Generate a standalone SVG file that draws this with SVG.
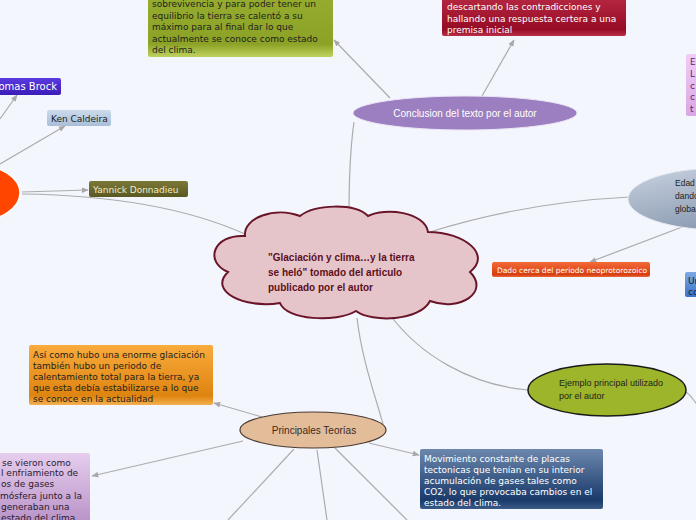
<svg xmlns="http://www.w3.org/2000/svg" width="696" height="520" viewBox="0 0 696 520">
<defs>
<linearGradient id="gGreen" x1="0" y1="0" x2="0" y2="1"><stop offset="0" stop-color="#97ad30"/><stop offset="0.8" stop-color="#8ba226"/><stop offset="1" stop-color="#bfd25e"/></linearGradient>
<linearGradient id="gRed" x1="0" y1="0" x2="0" y2="1"><stop offset="0" stop-color="#bb2c46"/><stop offset="0.85" stop-color="#960c24"/><stop offset="1" stop-color="#b83048"/></linearGradient>
<linearGradient id="gThomas" x1="0" y1="0" x2="0" y2="1"><stop offset="0" stop-color="#5a3be0"/><stop offset="1" stop-color="#3a1cb8"/></linearGradient>
<linearGradient id="gKen" x1="0" y1="0" x2="0" y2="1"><stop offset="0" stop-color="#ccdbeb"/><stop offset="1" stop-color="#a8bed8"/></linearGradient>
<linearGradient id="gYan" x1="0" y1="0" x2="0" y2="1"><stop offset="0" stop-color="#7c7838"/><stop offset="1" stop-color="#5a5822"/></linearGradient>
<linearGradient id="gDado" x1="0" y1="0" x2="0" y2="1"><stop offset="0" stop-color="#f26a38"/><stop offset="0.85" stop-color="#d83e0e"/><stop offset="1" stop-color="#e86a40"/></linearGradient>
<linearGradient id="gOrange" x1="0" y1="0" x2="0" y2="1"><stop offset="0" stop-color="#f9ab3c"/><stop offset="0.85" stop-color="#de8410"/><stop offset="1" stop-color="#f4b050"/></linearGradient>
<linearGradient id="gPurp" x1="0" y1="0" x2="0" y2="1"><stop offset="0" stop-color="#e6cdee"/><stop offset="1" stop-color="#b48ec4"/></linearGradient>
<linearGradient id="gNavy" x1="0" y1="0" x2="0" y2="1"><stop offset="0" stop-color="#6c88ad"/><stop offset="0.85" stop-color="#1a3a6a"/><stop offset="1" stop-color="#3a5a88"/></linearGradient>
<linearGradient id="gPink" x1="0" y1="0" x2="0" y2="1"><stop offset="0" stop-color="#f0ccf6"/><stop offset="1" stop-color="#d9a6e6"/></linearGradient>
<linearGradient id="gBlue" x1="0" y1="0" x2="0" y2="1"><stop offset="0" stop-color="#7eaae2"/><stop offset="1" stop-color="#3c72c2"/></linearGradient>
<linearGradient id="gEdad" x1="0" y1="0" x2="0.6" y2="1"><stop offset="0" stop-color="#c8d2e0"/><stop offset="1" stop-color="#8696ae"/></linearGradient>
<marker id="arr" viewBox="0 0 10 10" refX="9" refY="5" markerWidth="7" markerHeight="7" orient="auto" markerUnits="userSpaceOnUse"><path d="M0,1 L10,5 L0,9 Z" fill="#a8a8a8"/></marker>
</defs>
<style>
.c{fill:none;stroke:#acacac;stroke-width:1.2}
.a{marker-end:url(#arr)}
.t{font-family:"DejaVu Sans",Verdana,sans-serif;font-size:9px}
.h{font-family:"Liberation Sans",Arial,sans-serif;font-size:9px}
.dk{fill:#1e1e1e}
.wt{fill:#ffffff}
</style>
<rect width="696" height="520" fill="#f3f6fd"/>

<g id="connectors">
<path class="c" d="M349,214 C349,180 350,150 354,122"/>
<path class="c a" d="M390,98 L334,40"/>
<path class="c a" d="M482,96 L514,40"/>
<path class="c" d="M430,232 C500,210 570,200 630,197"/>
<path class="c a" d="M690,224 L590,262"/>
<path class="c a" d="M22,192 L88,190"/>
<path class="c" d="M22,194 C100,195 180,205 245,234"/>
<path class="c a" d="M0,164 L65,126"/>
<path class="c a" d="M0,119 L17,95"/>
<path class="c" d="M357,318 C362,360 375,395 383,424"/>
<path class="c" d="M390,315 C420,355 470,385 528,390"/>
<path class="c" d="M686,392 Q693,397 700,410"/>
<path class="c a" d="M262,417 L214,403"/>
<path class="c a" d="M243,441 L92,476"/>
<path class="c a" d="M369,443 L419,455"/>
<path class="c" d="M294,449 L228,520"/>
<path class="c" d="M317,450 L327,520"/>
<path class="c" d="M335,448 L407,520"/>
</g>

<g id="n-green">
<rect x="148" y="-8" width="185" height="65" rx="2" fill="url(#gGreen)"/>
<text class="t dk"><tspan x="152" y="7">sobrevivencia y para poder tener un</tspan><tspan x="152" y="18.5">equilibrio la tierra se calentó a su</tspan><tspan x="152" y="30">máximo para al final dar lo que</tspan><tspan x="152" y="41.5">actualmente se conoce como estado</tspan><tspan x="152" y="53">del clima.</tspan></text>
</g>

<g id="n-red">
<rect x="442" y="-8" width="184" height="44" rx="2" fill="url(#gRed)"/>
<text class="t wt"><tspan x="447" y="10">descartando las contradicciones y</tspan><tspan x="447" y="21.5">hallando una respuesta certera a una</tspan><tspan x="447" y="33">premisa inicial</tspan></text>
</g>

<g id="n-conclusion">
<ellipse cx="465" cy="113" rx="112" ry="17" fill="#9c7fc0" stroke="#ece4f4" stroke-width="1"/>
<text class="h wt" x="465" y="116.5" text-anchor="middle" style="font-size:10px">Conclusion del texto por el autor</text>
</g>

<g id="n-thomas">
<rect x="-20" y="78" width="81" height="17" rx="2" fill="url(#gThomas)"/>
<text class="t wt" x="57" y="90" text-anchor="end" style="font-size:10px">Thomas Brock</text>
</g>

<g id="n-ken">
<rect x="47" y="110" width="64" height="16" rx="2" fill="url(#gKen)"/>
<text class="t dk" x="51" y="121.5">Ken Caldeira</text>
</g>

<g id="n-redcircle">
<ellipse cx="-24" cy="193" rx="44" ry="28" fill="#ff4500" stroke="#ffffff" stroke-width="1.5"/>
</g>

<g id="n-yannick">
<rect x="89" y="181" width="99" height="16" rx="2" fill="url(#gYan)"/>
<text class="t" x="93" y="192.5" fill="#eeeccc">Yannick Donnadieu</text>
</g>

<g id="n-center">
<path d="M245,236 C243,218 275,206 300,216 C315,204 355,203 368,216 C385,207 425,212 428,232 C465,232 492,255 470,272 C490,292 460,312 430,301 C420,321 372,323 356,311 C336,323 286,320 280,303 C244,309 208,291 228,272 C204,262 213,234 245,236 Z" fill="#e6c5ca" stroke="#6a1428" stroke-width="2"/>
<text font-family="'Liberation Sans',Arial,sans-serif" font-weight="bold" font-size="10" fill="#5c0f20"><tspan x="268" y="260.5">"Glaciación y clima…y la tierra</tspan><tspan x="268" y="275.5">se heló" tomado del articulo</tspan><tspan x="268" y="290.5">publicado por el autor</tspan></text>
</g>

<g id="n-edad">
<ellipse cx="720" cy="199" rx="92" ry="31" fill="url(#gEdad)" stroke="#e8ecf2" stroke-width="1"/>
<text class="h dk" style="font-size:8.5px"><tspan x="675" y="186">Edad</tspan><tspan x="675" y="199">dando</tspan><tspan x="675" y="212">globa</tspan></text>
</g>

<g id="n-pink">
<rect x="686" y="54" width="20" height="62" rx="2" fill="url(#gPink)"/>
<text class="t" fill="#5a2a6a"><tspan x="690" y="65">E</tspan><tspan x="690" y="77">L</tspan><tspan x="690" y="89">c</tspan><tspan x="690" y="100">c</tspan><tspan x="690" y="112">t</tspan></text>
</g>

<g id="n-dado">
<rect x="492" y="262" width="158" height="15" rx="2" fill="url(#gDado)"/>
<text class="t wt" x="497" y="272.5" style="font-size:7.5px">Dado cerca del periodo neoprotorozoico</text>
</g>

<g id="n-blue">
<rect x="685" y="272" width="20" height="25" rx="2" fill="url(#gBlue)"/>
<text class="t" fill="#102040"><tspan x="688" y="284">Un</tspan><tspan x="688" y="295">co</tspan></text>
</g>

<g id="n-ejemplo">
<ellipse cx="607" cy="390" rx="79" ry="26" fill="#9db52b" stroke="#1a1a1a" stroke-width="1.5"/>
<text class="h dk" style="font-size:9px"><tspan x="559" y="386">Ejemplo principal utilizado</tspan><tspan x="559" y="399">por el autor</tspan></text>
</g>

<g id="n-orange">
<rect x="29" y="345" width="184" height="60" rx="2" fill="url(#gOrange)"/>
<text class="t dk"><tspan x="33" y="358">Así como hubo una enorme glaciación</tspan><tspan x="33" y="369">también hubo un periodo de</tspan><tspan x="33" y="380">calentamiento total para la tierra, ya</tspan><tspan x="33" y="391">que esta debía estabilizarse a lo que</tspan><tspan x="33" y="402">se conoce en la actualidad</tspan></text>
</g>

<g id="n-principales">
<ellipse cx="313" cy="430" rx="73" ry="18" fill="#e3bd9a" stroke="#4a3a30" stroke-width="1.2"/>
<text class="h" x="314" y="433.5" text-anchor="middle" fill="#3a2a20" style="font-size:10px">Principales Teorías</text>
</g>

<g id="n-purple">
<rect x="-20" y="453" width="110" height="75" rx="2" fill="url(#gPurp)"/>
<text class="t" fill="#2a1a30"><tspan x="2" y="465.5">se vieron como</tspan><tspan x="1" y="476">l enfriamiento de</tspan><tspan x="1" y="487">os de gases</tspan><tspan x="0" y="498.5">mósfera junto a la</tspan><tspan x="1" y="510">generaban una</tspan><tspan x="1" y="521">estado del clima</tspan></text>
</g>

<g id="n-navy">
<rect x="420" y="449" width="183" height="60" rx="2" fill="url(#gNavy)"/>
<text class="t wt"><tspan x="424" y="461.5">Movimiento constante de placas</tspan><tspan x="424" y="472.5">tectonicas que tenían en su interior</tspan><tspan x="424" y="483.5">acumulación de gases tales como</tspan><tspan x="424" y="494.5">CO2, lo que provocaba cambios en el</tspan><tspan x="424" y="505.5">estado del clima.</tspan></text>
</g>
</svg>
